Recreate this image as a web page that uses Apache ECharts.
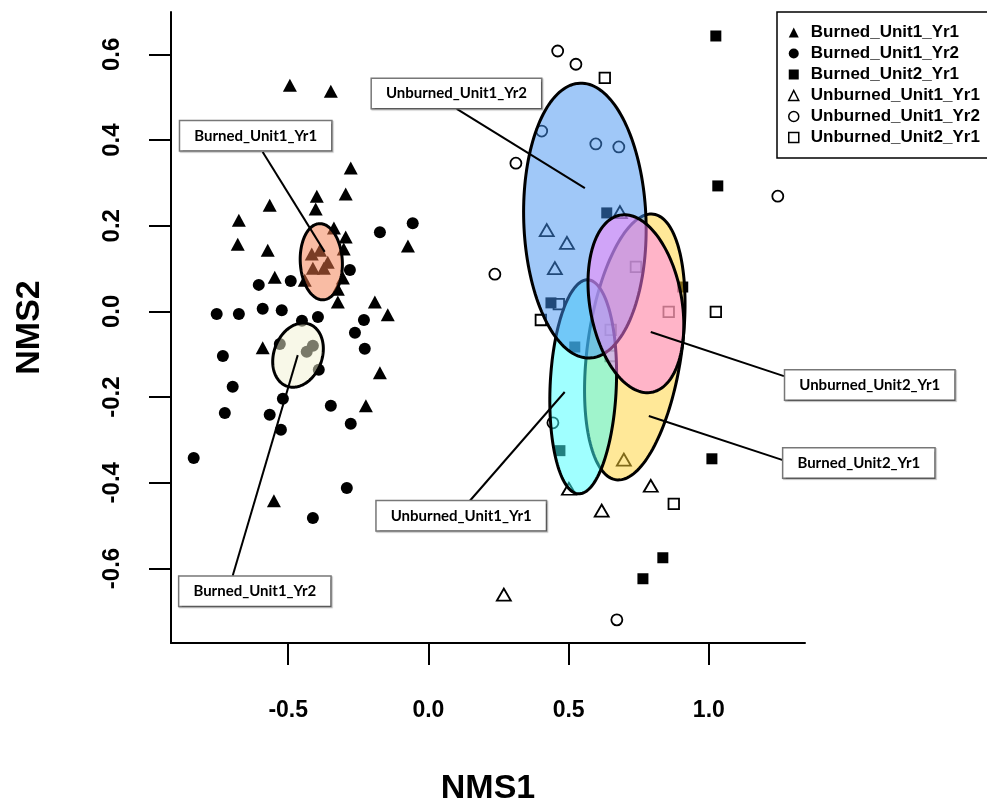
<!DOCTYPE html>
<html><head><meta charset="utf-8">
<script src="https://cdn.jsdelivr.net/npm/echarts@6/dist/echarts.min.js"></script>
<style>html,body{margin:0;padding:0;background:#fff}#c{width:987px;height:808px}</style>
</head><body><div id="c"></div>
<script>
// ---- data (NMS1, NMS2) ----
const groups = ['Burned_Unit1_Yr1','Burned_Unit1_Yr2','Burned_Unit2_Yr1','Unburned_Unit1_Yr1','Unburned_Unit1_Yr2','Unburned_Unit2_Yr1'];

const burnedUnit1Yr1 = [[-0.494,0.528],[-0.348,0.514],[-0.277,0.335],[-0.398,0.269],[-0.295,0.274],[-0.566,0.248],[-0.402,0.239],[-0.676,0.213],[-0.337,0.195],[-0.295,0.174],[-0.680,0.157],[-0.573,0.143],[-0.073,0.153],[-0.302,0.146],[-0.416,0.134],[-0.387,0.143],[-0.359,0.115],[-0.412,0.101],[-0.373,0.101],[-0.548,0.080],[-0.305,0.078],[-0.323,0.052],[-0.441,0.073],[-0.323,0.022],[-0.191,0.022],[-0.145,-0.008],[-0.591,-0.085],[-0.173,-0.143],[-0.223,-0.220],[-0.551,-0.442]];
const burnedUnit1Yr2 = [[-0.173,0.185],[-0.056,0.206],[-0.280,0.097],[-0.605,0.062],[-0.491,0.071],[-0.755,-0.006],[-0.676,-0.006],[-0.591,0.006],[-0.523,0.003],[-0.451,-0.022],[-0.394,-0.013],[-0.230,-0.020],[-0.262,-0.050],[-0.227,-0.087],[-0.733,-0.104],[-0.530,-0.076],[-0.412,-0.080],[-0.434,-0.094],[-0.391,-0.136],[-0.698,-0.176],[-0.519,-0.204],[-0.348,-0.220],[-0.726,-0.237],[-0.566,-0.241],[-0.277,-0.262],[-0.526,-0.276],[-0.837,-0.342],[-0.291,-0.412],[-0.412,-0.482]];
const burnedUnit2Yr1 = [[1.025,0.643],[1.032,0.293],[1.011,-0.344],[0.836,-0.575],[0.765,-0.624],[0.636,0.230],[0.437,0.020],[0.522,-0.083],[0.469,-0.325],[0.907,0.057]];
const unburnedUnit1Yr1 = [[0.683,0.232],[0.422,0.190],[0.494,0.160],[0.451,0.101],[0.697,-0.346],[0.501,-0.414],[0.793,-0.407],[0.618,-0.465],[0.269,-0.661]];
const unburnedUnit1Yr2 = [[0.461,0.608],[0.526,0.577],[0.404,0.421],[0.597,0.391],[0.679,0.384],[0.312,0.346],[0.237,0.087],[0.444,-0.260],[1.246,0.269],[0.672,-0.720]];
const unburnedUnit2Yr1 = [[0.629,0.545],[0.401,-0.020],[0.465,0.017],[0.740,0.104],[0.857,-0.001],[0.650,-0.043],[0.650,-0.104],[1.025,-0.001],[0.875,-0.449]];

// group ellipses: centre x, centre y, half-width (NMS1 units), half-height (NMS2 units), tilt (deg)
const ellipseCenterX = [-0.382,-0.465,0.736,0.552,0.558,0.740];
const ellipseCenterY = [0.116,-0.102,-0.083,-0.176,0.212,0.018];
const ellipseHalfX   = [0.075,0.086,0.168,0.118,0.218,0.164];
const ellipseHalfY   = [0.089,0.077,0.313,0.250,0.321,0.210];
const ellipseTilt    = [-3,20,8,2.5,-2,-10];

const xTicks = [-0.5,0.0,0.5,1.0];
const yTicks = [-0.6,-0.4,-0.2,0.0,0.2,0.4,0.6];

// ---- annotation layout (label callouts, in axis units) ----
const calloutLayout = [
  {label:'Burned_Unit1_Yr1',   anchor:[-0.370,0.139], start:[-0.591,0.372], box:[-0.616,0.410]},
  {label:'Unburned_Unit1_Yr2', anchor:[0.558,0.288],  start:[0.101,0.473],  box:[0.100,0.509]},
  {label:'Burned_Unit1_Yr2',   anchor:[-0.466,-0.102],start:[-0.698,-0.617],box:[-0.619,-0.653]},
  {label:'Unburned_Unit1_Yr1', anchor:[0.486,-0.188], start:[0.148,-0.442], box:[0.117,-0.477]},
  {label:'Unburned_Unit2_Yr1', anchor:[0.793,-0.048], start:[1.268,-0.151], box:[1.574,-0.172]},
  {label:'Burned_Unit2_Yr1',   anchor:[0.786,-0.244], start:[1.264,-0.347], box:[1.535,-0.354]}
];

// ---- styles ----
const FONT = '"Liberation Sans", Arial, Helvetica, sans-serif';
const seriesData = [burnedUnit1Yr1, burnedUnit1Yr2, burnedUnit2Yr1, unburnedUnit1Yr1, unburnedUnit1Yr2, unburnedUnit2Yr1];
const markers = [
  {symbol:'triangle', size:[14,13], open:false},
  {symbol:'circle',   size:12,      open:false},
  {symbol:'rect',     size:11,      open:false},
  {symbol:'triangle', size:[14,12], open:true},
  {symbol:'circle',   size:11,      open:true},
  {symbol:'rect',     size:10.5,    open:true}
];
const ellipseFill = ['rgba(243,121,73,0.5)','rgba(241,241,209,0.5)','rgba(255,209,49,0.5)','rgba(65,255,255,0.5)','rgba(65,145,241,0.5)','rgba(255,128,248,0.5)'];

const chart = echarts.init(document.getElementById('c'), null, {renderer:'canvas'});

const scatterSeries = groups.map((g,i) => ({
  name: g, type:'scatter', z:2, data: seriesData[i],
  symbol: markers[i].symbol, symbolSize: markers[i].size,
  itemStyle: markers[i].open ? {color:'rgba(0,0,0,0)', borderColor:'#000', borderWidth:1.8, opacity:1} : {color:'#000', opacity:1},
  emphasis:{disabled:true}, animation:false
}));

const ellipseData = ellipseCenterX.map((cx,i) => [cx, ellipseCenterY[i], ellipseHalfX[i], ellipseHalfY[i], ellipseTilt[i]]);

const ellipseSeries = {
  type:'custom', z:3, animation:false, silent:true,
  data: ellipseData,
  renderItem: function(params, api){
    const c = api.coord([api.value(0), api.value(1)]);
    const s = api.size([api.value(2), api.value(3)]);
    const th = api.value(4) * Math.PI / 180;
    const pts = [];
    const N = 160;
    for (let k = 0; k < N; k++) {
      const t = k / N * 2 * Math.PI;
      const u = s[0] * Math.cos(t), v = s[1] * Math.sin(t);
      pts.push([c[0] + u*Math.cos(th) - v*Math.sin(th), c[1] + u*Math.sin(th) + v*Math.cos(th)]);
    }
    return {type:'polygon', shape:{points:pts}, style:{fill: ellipseFill[params.dataIndex], stroke:'#000', lineWidth:3}};
  }
};

const calloutSeries = {
  type:'custom', z:4, animation:false, silent:true,
  data: calloutLayout.map(c => [c.anchor[0], c.anchor[1], c.start[0], c.start[1], c.box[0], c.box[1]]),
  renderItem: function(params, api){
    const a = api.coord([api.value(0), api.value(1)]);
    const s = api.coord([api.value(2), api.value(3)]);
    const b = api.coord([api.value(4), api.value(5)]);
    return {type:'group', children:[
      {type:'line', shape:{x1:s[0], y1:s[1], x2:a[0], y2:a[1]}, style:{stroke:'#000', lineWidth:2}},
      {type:'text', x:b[0], y:b[1], z2:10, style:{
        text: calloutLayout[params.dataIndex].label,
        font: 'bold 15px Lato, "Open Sans", sans-serif', fill:'#000',
        align:'center', verticalAlign:'middle',
        backgroundColor:'#fff', borderColor:'#777', borderWidth:1.5, padding:[7,14,7,14],
        shadowColor:'rgba(0,0,0,0.25)', shadowOffsetX:1, shadowOffsetY:1, shadowBlur:1
      }}
    ]};
  }
};

const legendData = groups.map((g,i) => ({
  name: g,
  icon: markers[i].symbol,
  itemStyle: markers[i].open ? {color:'#fff', borderColor:'#000', borderWidth:1.5, opacity:1} : {color:'#000', borderWidth:0, opacity:1}
}));

chart.setOption({
  animation:false,
  backgroundColor:'#fff',
  grid:{left:171, top:12, right:182, bottom:165, containLabel:false, outerBoundsMode:'none'},
  xAxis:{
    type:'value', min:-0.918, max:1.343,
    axisLine:{show:true, onZero:false, lineStyle:{color:'#000', width:2}},
    axisTick:{show:true, length:22, lineStyle:{color:'#000', width:2}, customValues:xTicks},
    axisLabel:{customValues:xTicks, formatter:v=>Number(v).toFixed(1), margin:56, fontSize:23, fontWeight:'bold', color:'#000', fontFamily:FONT},
    splitLine:{show:false},
    name:'NMS1', nameLocation:'middle', nameGap:129,
    nameTextStyle:{fontSize:34, fontWeight:'bold', color:'#000', fontFamily:FONT}
  },
  yAxis:{
    type:'value', min:-0.774, max:0.699,
    axisLine:{show:true, onZero:false, lineStyle:{color:'#000', width:2}},
    axisTick:{show:true, length:22, lineStyle:{color:'#000', width:2}, customValues:yTicks},
    axisLabel:{customValues:yTicks, formatter:v=>Number(v).toFixed(1), rotate:90, margin:47, fontSize:24, fontWeight:'bold', color:'#000', fontFamily:FONT},
    splitLine:{show:false},
    name:'NMS2', nameLocation:'middle', nameRotate:90, nameGap:124,
    nameTextStyle:{fontSize:34, fontWeight:'bold', color:'#000', fontFamily:FONT}
  },
  legend:{
    orient:'vertical', left:777, top:12, z:10,
    data: legendData,
    itemWidth:10, itemHeight:10, itemGap:0,
    padding:[10,12,10,11],
    borderColor:'#000', borderWidth:1.5, backgroundColor:'#fff',
    selectedMode:false,
    textStyle:{fontFamily:FONT, fontWeight:'bold', fontSize:17, color:'#000', lineHeight:21, padding:[0,0,0,7]}
  },
  series: scatterSeries.concat([ellipseSeries, calloutSeries])
});
</script>
</body></html>
